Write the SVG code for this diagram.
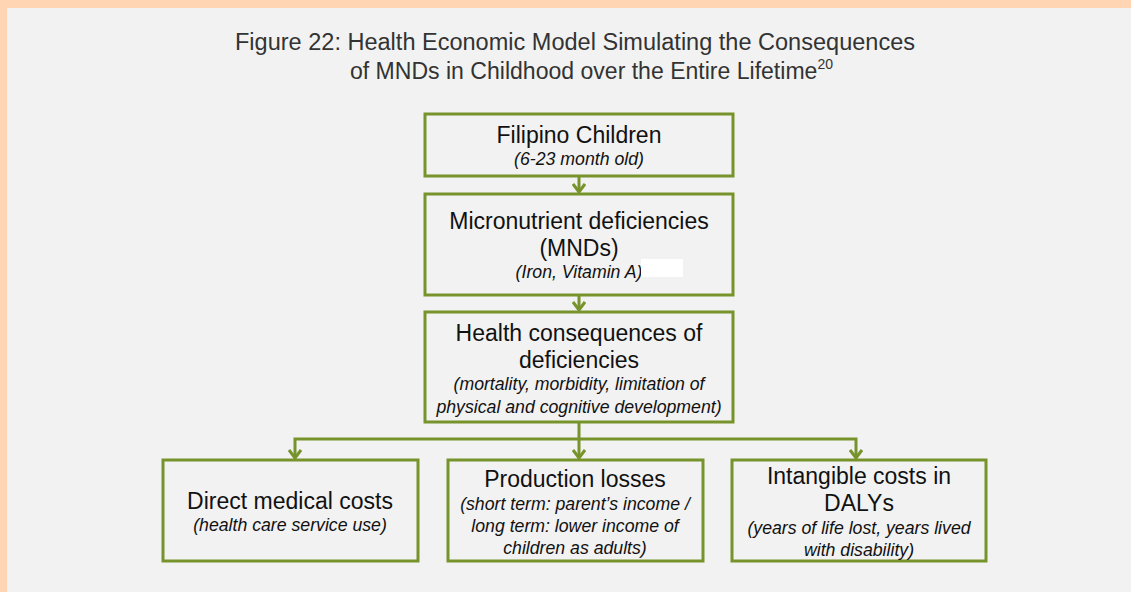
<svg xmlns="http://www.w3.org/2000/svg" width="1131" height="592" viewBox="0 0 1131 592">
<style>
.box{fill:#F2F2F2;stroke:#77932B;stroke-width:3}
.con{fill:none;stroke:#77932B;stroke-width:3}
.t{font-family:"Liberation Sans",Arial,sans-serif;font-size:23px;fill:#111;text-anchor:middle}
.s{font-family:"Liberation Sans",Arial,sans-serif;font-size:17.7px;font-style:italic;fill:#111;text-anchor:middle}
.title{font-family:"Liberation Sans",Arial,sans-serif;font-size:23px;fill:#333}
</style>
<defs>
<marker id="arr" viewBox="0 0 14 10" refX="7" refY="9" markerWidth="14" markerHeight="10" markerUnits="userSpaceOnUse" orient="0">
<path d="M1,1 L7,9 L13,1" fill="none" stroke="#77932B" stroke-width="3"/>
</marker>
</defs>
<rect x="0" y="0" width="1131" height="592" fill="#FFD5B4"/>
<rect x="7" y="8" width="1124" height="584" fill="#F2F2F2"/>
<g id="title">
<text class="title" x="235" y="50" textLength="680" lengthAdjust="spacingAndGlyphs">Figure 22: Health Economic Model Simulating the Consequences</text>
<text class="title" x="350" y="79" textLength="483" lengthAdjust="spacingAndGlyphs">of MNDs in Childhood over the Entire Lifetime<tspan font-size="14" dy="-10">20</tspan></text>
</g>
<g id="connectors">
<path class="con" d="M579,176 V192" marker-end="url(#arr)"/>
<path class="con" d="M579,295 V310" marker-end="url(#arr)"/>
<path class="con" d="M579,422 V458" marker-end="url(#arr)"/>
<path class="con" d="M579,439 H295 V458" marker-end="url(#arr)"/>
<path class="con" d="M579,439 H856 V458" marker-end="url(#arr)"/>
</g>
<g id="n1">
<rect class="box" x="425" y="114" width="308" height="62"/>
<text class="t" x="579" y="143">Filipino Children</text>
<text class="s" x="579" y="165">(6-23 month old)</text>
</g>
<g id="n2">
<rect class="box" x="425" y="194" width="308" height="101"/>
<text class="t" x="579" y="229">Micronutrient deficiencies</text>
<text class="t" x="579" y="256">(MNDs)</text>
<text class="s" x="579" y="278">(Iron, Vitamin A)</text>
<rect x="641" y="259" width="42" height="18" fill="#FFFFFF"/>
</g>
<g id="n3">
<rect class="box" x="425" y="312" width="308" height="110"/>
<text class="t" x="579" y="341">Health consequences of</text>
<text class="t" x="579" y="368">deficiencies</text>
<text class="s" x="579" y="390">(mortality, morbidity, limitation of</text>
<text class="s" x="579" y="413">physical and cognitive development)</text>
</g>
<g id="n4">
<rect class="box" x="163" y="460" width="255" height="101"/>
<text class="t" x="290" y="509">Direct medical costs</text>
<text class="s" x="290" y="531">(health care service use)</text>
</g>
<g id="n5">
<rect class="box" x="448" y="460" width="255" height="101"/>
<text class="t" x="575" y="487">Production losses</text>
<text class="s" x="575" y="510">(short term: parent’s income /</text>
<text class="s" x="575" y="532">long term: lower income of</text>
<text class="s" x="575" y="554">children as adults)</text>
</g>
<g id="n6">
<rect class="box" x="732" y="460" width="254" height="101"/>
<text class="t" x="859" y="484">Intangible costs in</text>
<text class="t" x="859" y="511">DALYs</text>
<text class="s" x="859" y="534">(years of life lost, years lived</text>
<text class="s" x="859" y="556">with disability)</text>
</g>
</svg>
